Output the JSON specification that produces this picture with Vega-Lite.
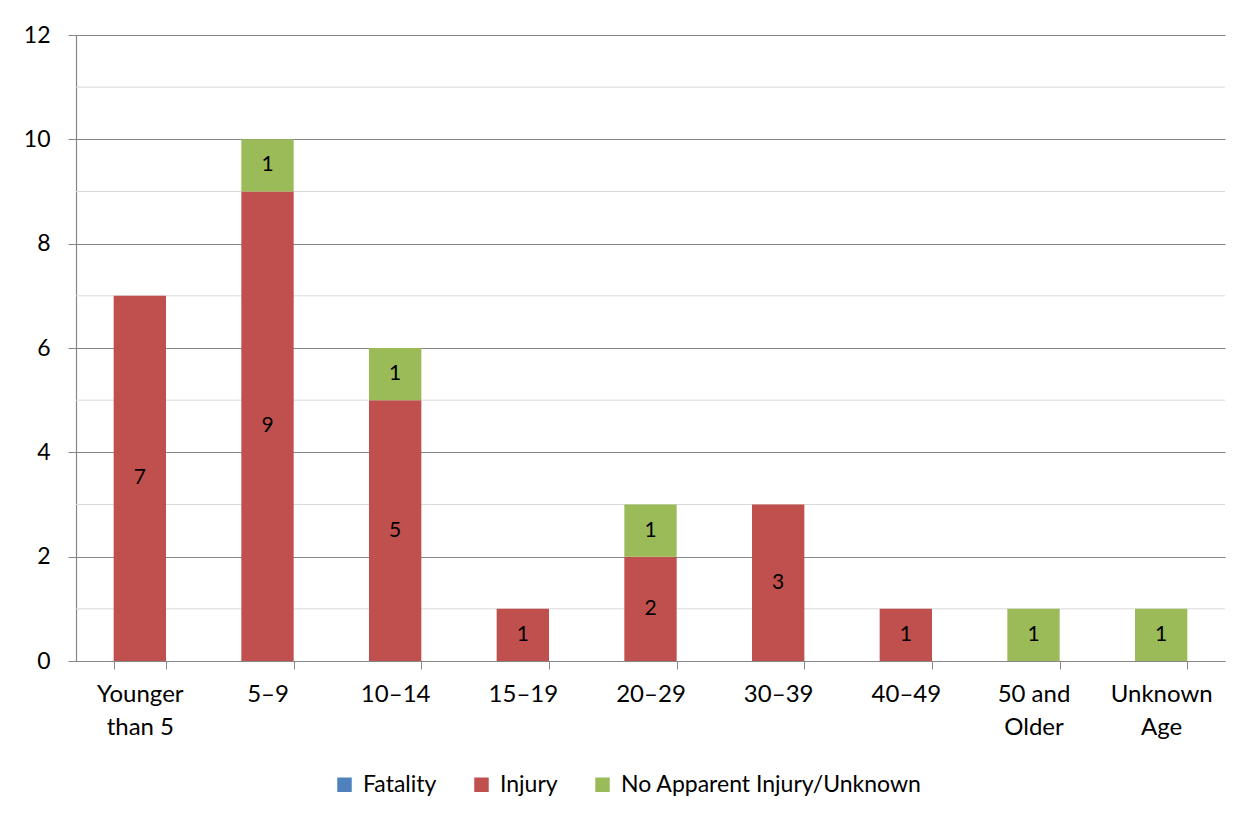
{
  "$schema": "https://vega.github.io/schema/vega-lite/v6.json",
  "autosize": "none",
  "padding": {"left": 76, "top": 35, "right": 25, "bottom": 160},
  "width": 1149,
  "height": 626,
  "background": "white",
  "config": {
    "view": {"stroke": null},
    "font": "Lato",
    "axis": {"labelFont": "Lato", "labelColor": "#000000", "domainColor": "#868686", "tickColor": "#868686", "domainWidth": 1.2, "title": null}
  },
  "data": {
    "values": [
      {"age": "Younger than 5", "status": "Injury", "count": 7},
      {"age": "5–9", "status": "Injury", "count": 9},
      {"age": "5–9", "status": "No Apparent Injury/Unknown", "count": 1},
      {"age": "10–14", "status": "Injury", "count": 5},
      {"age": "10–14", "status": "No Apparent Injury/Unknown", "count": 1},
      {"age": "15–19", "status": "Injury", "count": 1},
      {"age": "20–29", "status": "Injury", "count": 2},
      {"age": "20–29", "status": "No Apparent Injury/Unknown", "count": 1},
      {"age": "30–39", "status": "Injury", "count": 3},
      {"age": "40–49", "status": "Injury", "count": 1},
      {"age": "50 and Older", "status": "No Apparent Injury/Unknown", "count": 1},
      {"age": "Unknown Age", "status": "No Apparent Injury/Unknown", "count": 1}
    ]
  },
  "layer": [
    {
      "mark": {"type": "rule", "color": "#d9d9d9", "strokeWidth": 1},
      "data": {"values": [{"v": 1}, {"v": 3}, {"v": 5}, {"v": 7}, {"v": 9}, {"v": 11}]},
      "encoding": {
        "y": {"field": "v", "type": "quantitative", "scale": {"domain": [0, 12]}}
      }
    },
    {
      "mark": {"type": "bar"},
      "encoding": {
        "x": {
          "field": "age", "type": "nominal", "sort": null,
          "scale": {"domain": ["Younger than 5", "5–9", "10–14", "15–19", "20–29", "30–39", "40–49", "50 and Older", "Unknown Age"], "paddingInner": 0.59, "paddingOuter": 0.295},
          "axis": {
            "labelAngle": 0, "tickBand": "extent", "tickSize": 8, "labelPadding": 13, "labelLineHeight": 33, "labelFontSize": 24,
            "labelBaseline": "top",
            "labelExpr": "datum.value == 'Younger than 5' ? ['Younger', 'than 5'] : datum.value == '50 and Older' ? ['50 and', 'Older'] : datum.value == 'Unknown Age' ? ['Unknown', 'Age'] : datum.label"
          }
        },
        "y": {
          "field": "count", "type": "quantitative", "stack": "zero",
          "scale": {"domain": [0, 12], "nice": false},
          "axis": {"values": [0, 2, 4, 6, 8, 10, 12], "grid": true, "gridColor": "#868686", "gridWidth": 1, "tickSize": 8, "labelPadding": 18, "labelFontSize": 23}
        },
        "order": {"field": "status", "sort": "ascending"},
        "color": {
          "field": "status", "type": "nominal",
          "scale": {"domain": ["Fatality", "Injury", "No Apparent Injury/Unknown"], "range": ["#4F81BD", "#C0504D", "#9BBB59"]},
          "legend": {
            "title": null, "orient": "none", "legendX": 257, "legendY": 738, "direction": "horizontal", "symbolType": "square", "symbolSize": 210,
            "symbolStrokeWidth": 0, "labelFontSize": 23, "labelFont": "Lato", "labelColor": "#000000", "labelLimit": 500, "columnPadding": 33, "labelOffset": 7
          }
        }
      }
    },
    {
      "transform": [
        {"stack": "count", "groupby": ["age"], "sort": [{"field": "status"}], "as": ["y0", "y1"]},
        {"fold": ["y0", "y1"], "as": ["which", "pos"]}
      ],
      "mark": {"type": "text", "fontSize": 21, "color": "#000000", "font": "Lato", "baseline": "middle"},
      "encoding": {
        "x": {"field": "age", "type": "nominal", "sort": null},
        "y": {"aggregate": "mean", "field": "pos", "type": "quantitative"},
        "detail": {"field": "status"},
        "text": {"field": "count", "type": "quantitative"}
      }
    }
  ]
}
